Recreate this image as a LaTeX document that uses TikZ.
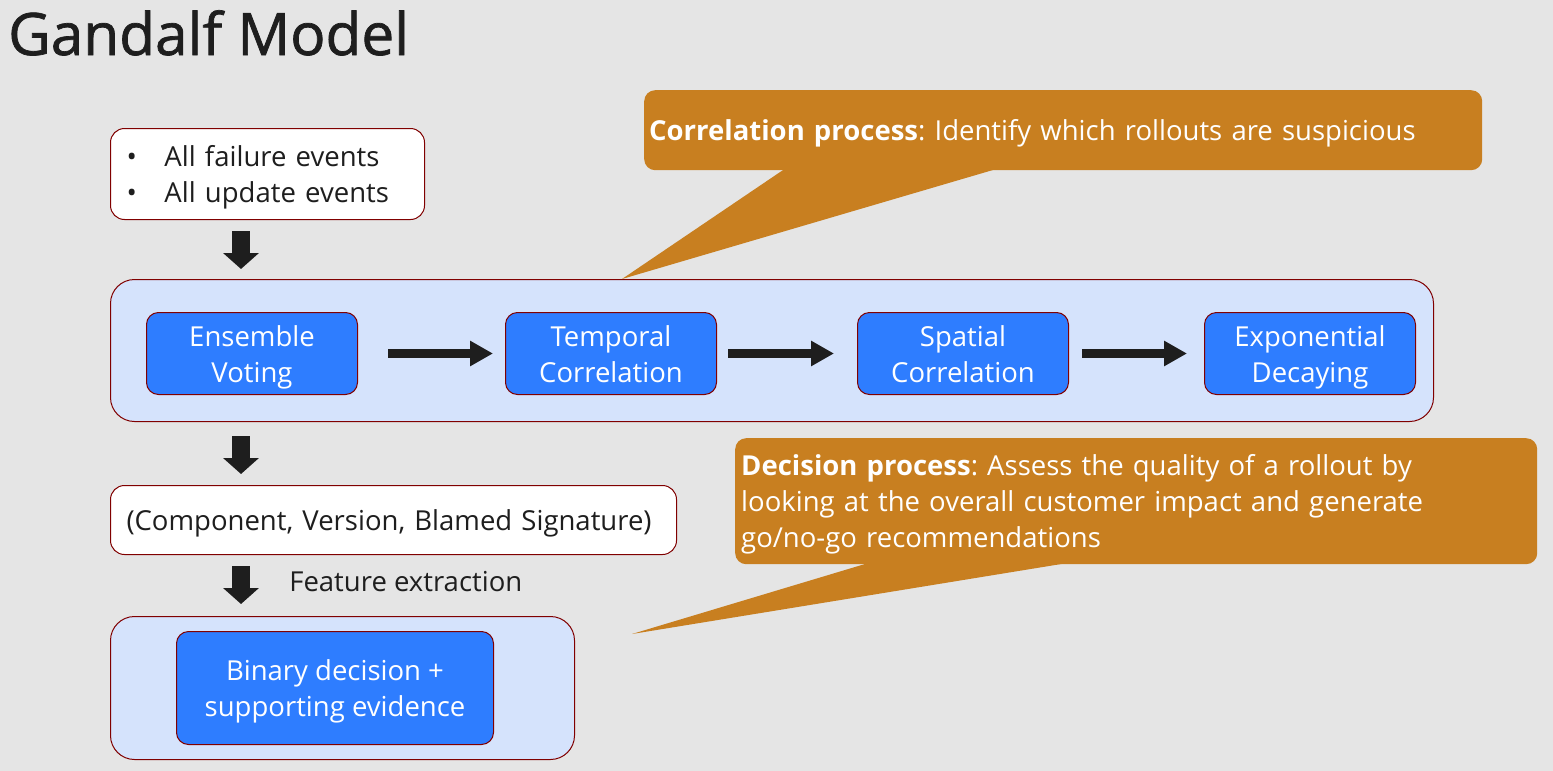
\documentclass[tikz,border=0pt]{standalone}
\usepackage{fontspec}
\setmainfont{Open Sans}
\newfontfamily\titlefont[FakeBold=1.2]{Open Sans}
\usepackage{tikz}
\usetikzlibrary{arrows.meta,positioning}
\definecolor{slide}{RGB}{229,229,229}
\definecolor{frame}{RGB}{128,0,0}
\definecolor{paleblue}{RGB}{213,227,252}
\definecolor{stepblue}{RGB}{46,125,255}
\definecolor{note}{RGB}{200,127,32}
\definecolor{ink}{RGB}{30,30,30}
\def\capline{\rule{0pt}{30pt}}
\def\footline{\rule[-9pt]{0pt}{0pt}}
\frenchspacing

\begin{document}
\begin{tikzpicture}[x=1pt,y=-1pt,
  every node/.style={font=\fontsize{27.5}{36}\selectfont, text=ink},
  plainbox/.style={draw=frame, line width=1pt, fill=white, rounded corners=14pt, anchor=north west, inner ysep=0pt, align=left},
  panel/.style={draw=frame, line width=1pt, fill=paleblue, rounded corners=24pt, anchor=north west, inner sep=0pt},
  stepbox/.style={draw=frame, line width=1pt, fill=stepblue, rounded corners=12pt, anchor=north west, inner sep=0pt, minimum width=211pt, minimum height=82pt, text=white, align=center},
  downarr/.style={-{Triangle[width=35pt,length=16pt]}, line width=18pt, draw=ink},
  rightarr/.style={-{Triangle[width=24pt,length=23pt]}, line width=9pt, draw=ink},
  callout/.style={fill=note, rounded corners=11pt, anchor=north west, inner ysep=0pt, text=white, align=left}]
  \fill[slide] (0,0) rectangle (1553,771);
  \useasboundingbox (0,0) rectangle (1553,771);

  \node[anchor=base west, inner xsep=0pt, font=\titlefont\fontsize{58.5}{60}\selectfont] (title) at (8,55) {Gandalf Model};

  % inputs
  \node[plainbox, minimum width=314pt, minimum height=91pt, inner xsep=12pt, text width=290pt] (events) at (110,128)
    {\capline\makebox[42pt][l]{\hspace{4pt}\textbullet}All failure events\\ \makebox[42pt][l]{\hspace{4pt}\textbullet}All update events\footline};

  % correlation
  \node[panel, minimum width=1323pt, minimum height=142pt] (corr) at (110,279) {};
  \node[stepbox] (vote) at (146,312) {\capline Ensemble\\Voting\footline};
  \node[stepbox] (temporal) at (505,312) {\capline Temporal\\Correlation\footline};
  \node[stepbox] (spatial) at (857,312) {\capline Spatial\\Correlation\footline};
  \node[stepbox] (decay) at (1204,312) {\capline Exponential\\Decaying\footline};
  \draw[rightarr, shorten <=30pt, shorten >=12pt] (vote) -- (temporal);
  \draw[rightarr, shorten <=11pt, shorten >=23pt] (temporal) -- (spatial);
  \draw[rightarr, shorten <=13pt, shorten >=17pt] (spatial) -- (decay);

  % decision
  \node[plainbox, minimum width=566pt, minimum height=69pt, inner xsep=16pt, text width=534pt] (tuple) at (110,485)
    {\capline(Component, Version, Blamed Signature)\footline};
  \node[panel, minimum width=464pt, minimum height=143pt] (outcome) at (110,616) {};
  \node[stepbox, minimum width=317pt, minimum height=113pt] (verdict) at (176,631) {\capline Binary decision +\\supporting evidence\footline};

  \draw[downarr, shorten <=11pt, shorten >=10pt] ([xshift=131pt]events.south west) -- ([xshift=131pt]corr.north west);
  \draw[downarr, shorten <=14pt, shorten >=11pt] ([xshift=131pt]corr.south west) -- ([xshift=131pt]tuple.north west);
  \draw[downarr, shorten <=11pt, shorten >=12pt] ([xshift=131pt]tuple.south west) -- ([xshift=131pt]outcome.north west)
    node[midway, anchor=west, xshift=36pt, yshift=4pt, text=ink] (featlbl) {Feature extraction};

  % notes
  \node[callout, minimum width=838pt, minimum height=80pt, inner xsep=5pt, text width=828pt] (corrnote) at (644,90)
    {\capline\textbf{Correlation process}: Identify which rollouts are suspicious\footline};
  \coordinate (corrtip) at ([xshift=512pt]corr.north west);
  \fill[note] ([xshift=140pt,yshift=1pt]corrnote.south west) -- (corrtip) -- ([xshift=351pt,yshift=1pt]corrnote.south west) -- cycle;

  \node[callout, minimum width=802pt, minimum height=126pt, inner xsep=6pt, text width=790pt] (decnote) at (735,438)
    {\capline\textbf{Decision process}: Assess the quality of a rollout by\\looking at the overall customer impact and generate\\go/no-go recommendations\footline};
  \coordinate (dectip) at (632,634);
  \fill[note] ([xshift=132pt,yshift=1pt]decnote.south west) -- (dectip) -- ([xshift=330pt,yshift=1pt]decnote.south west) -- cycle;
\end{tikzpicture}
\end{document}
